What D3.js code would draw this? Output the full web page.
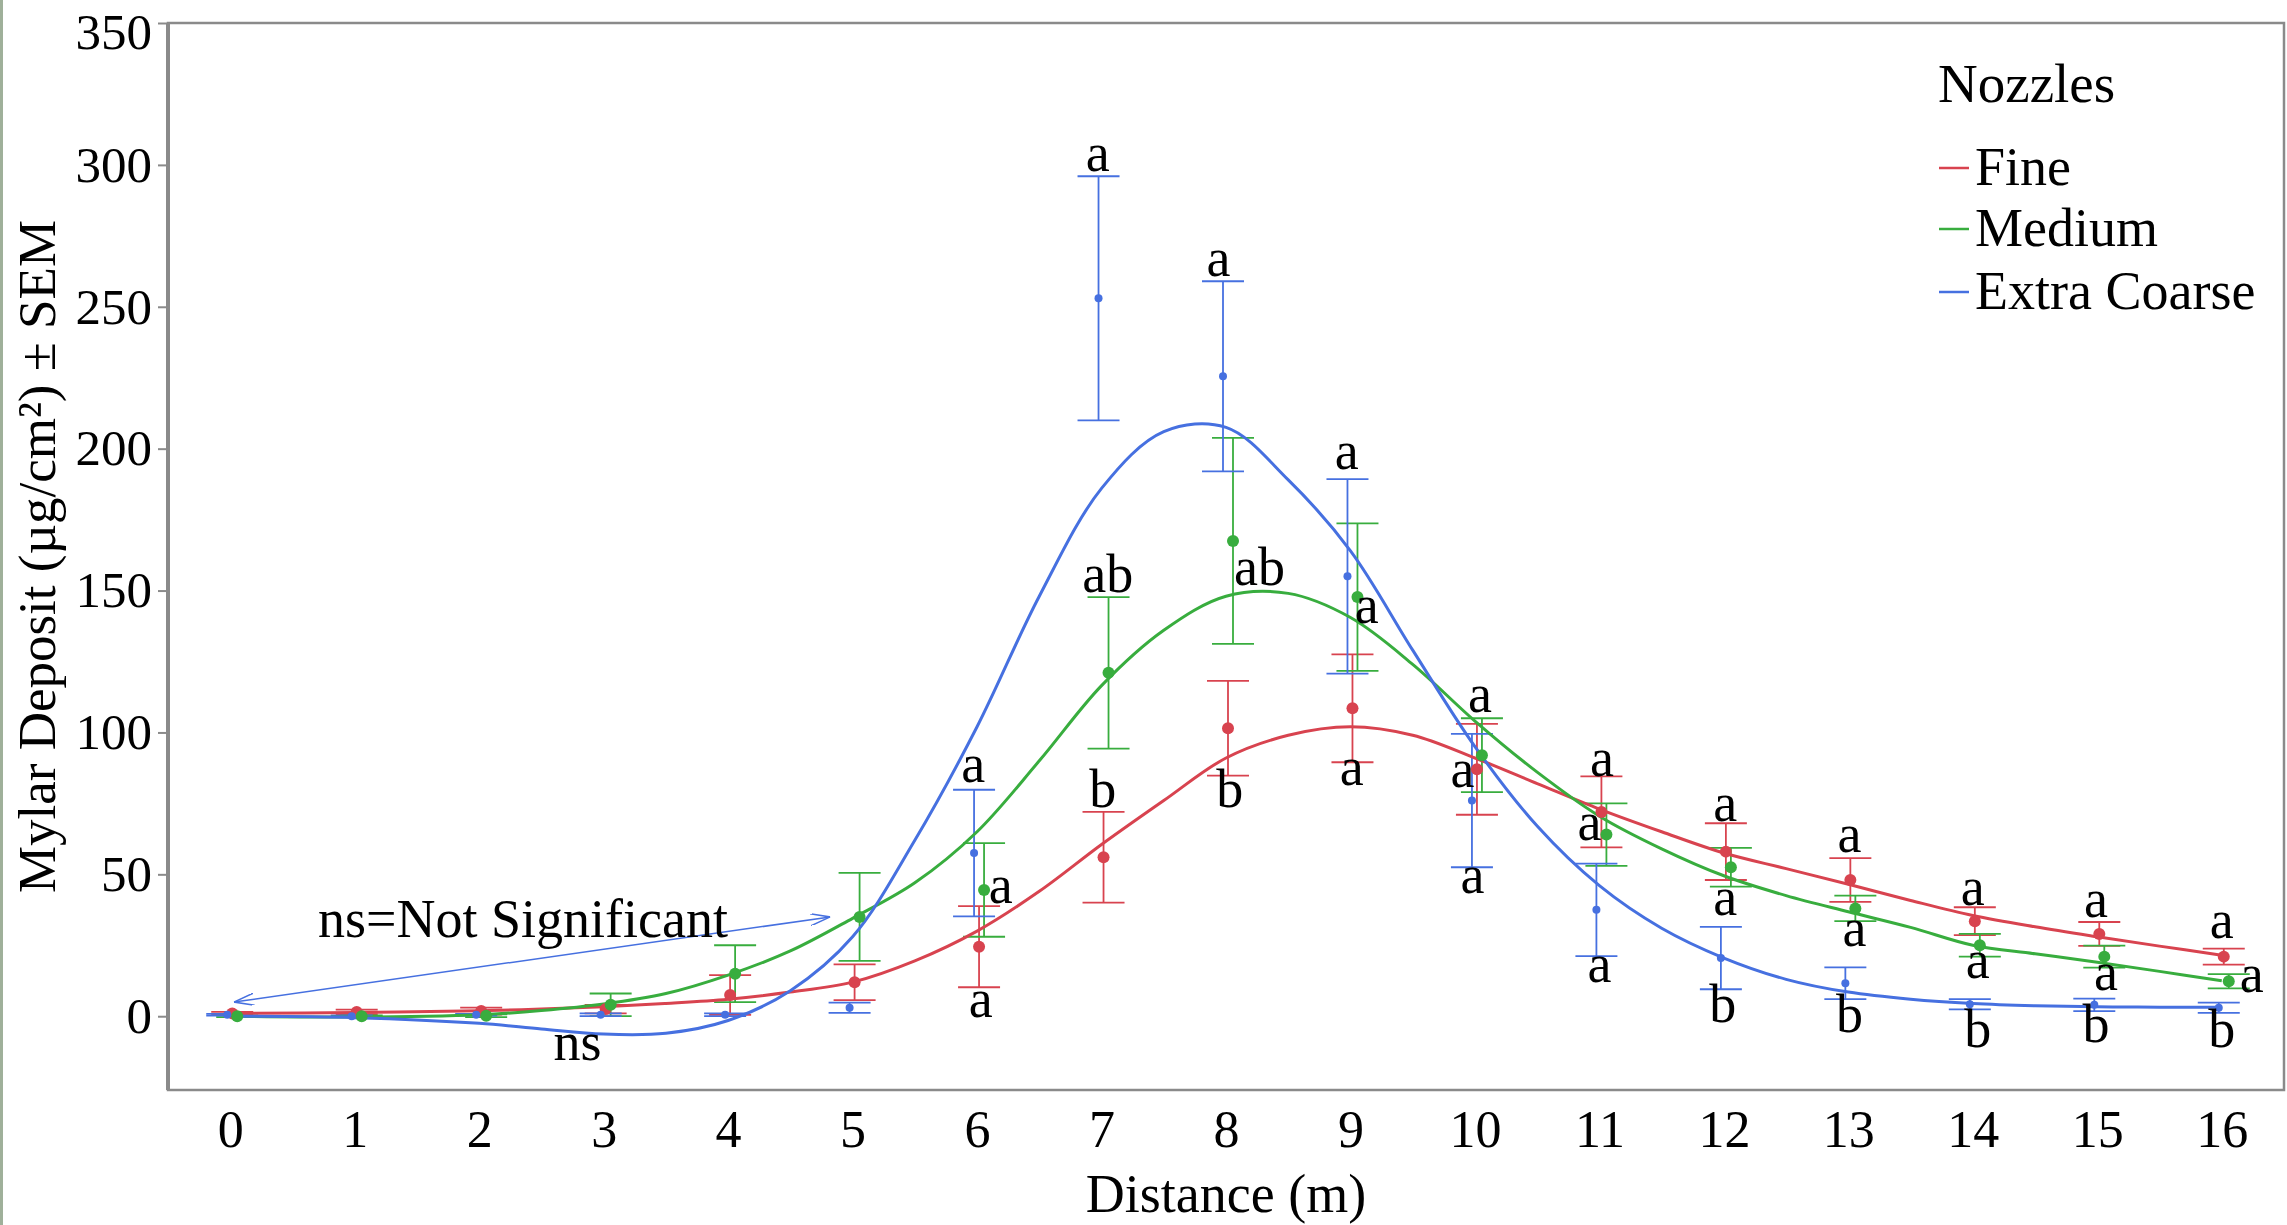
<!DOCTYPE html>
<html>
<head>
<meta charset="utf-8">
<script src="https://cdn.jsdelivr.net/npm/d3@7"></script>
<style>
  body { margin: 0; background: #ffffff; }
  text { font-family: "Liberation Serif", "Times New Roman", serif; fill: #000; }
</style>
</head>
<body>
<div id="chart"></div>
<script>
// Data ------------------------------------------------------------------------
const distances = [0, 1, 2, 3, 4, 5, 6, 7, 8, 9, 10, 11, 12, 13, 14, 15, 16];

const fineMean = [1, 1.5, 1.8, 2.5, 7.5, 12, 24.5, 56, 101.5, 108.5, 87, 72, 58, 48, 33.5, 29, 21];
const fineSem = [0.5, 0.8, 1.2, 1.5, 7, 6.3, 14.3, 16, 16.7, 19, 16, 12.5, 10, 7.7, 4.9, 4.2, 2.8];
const mediumMean = [0, 0, 0.2, 4, 15, 35, 44.5, 121, 167.5, 147.7, 92, 64, 52.5, 38, 25, 21, 12.3];
const mediumSem = [0.3, 0.3, 0.5, 4, 10, 15.5, 16.5, 26.7, 36.3, 26, 13, 11, 6.8, 4.5, 4, 3.9, 2.5];
const coarseMean = [0.5, 0, 0.5, 0.5, 0.5, 3, 57.5, 253, 225.5, 155, 76, 37.5, 20.5, 11.6, 4.2, 4, 3];
const coarseSem = [0.3, 0.3, 0.3, 0.5, 0.5, 1.8, 22.3, 43, 33.5, 34.3, 23.5, 16.3, 11, 5.6, 1.8, 2.2, 1.8];

// fitted curves
const fitX = [0, 1, 2, 2.5, 3, 3.5, 4, 4.5, 5, 5.5, 6, 6.5, 7, 7.5, 8, 8.5, 9, 9.5, 10, 10.5, 11, 11.5, 12, 12.5, 13, 13.5, 14, 14.5, 15, 15.5, 16];
const fineFit = [1, 1.3, 1.9, 2.5, 3.3, 4.5, 6, 8.5, 12, 19.5, 30, 44, 60.5, 76, 91, 99, 102, 99, 91, 82, 73, 65, 57.5, 52, 46.5, 40.8, 35.5, 31.5, 28, 24.7, 21.5];
const mediumFit = [0, -0.3, 0.5, 2, 4.3, 8, 14.5, 23, 34.5, 47, 65, 90, 116.5, 136, 148, 149, 140.5, 124, 104, 86, 70.5, 59, 49.5, 42.5, 36.8, 31.3, 25, 22, 19, 15.8, 12.5];
const coarseFit = [0, -0.5, -2.5, -4.5, -6.3, -6, -1.5, 9, 28, 62, 102, 148, 186, 206, 207.5, 189, 164, 129, 95, 67, 46, 31, 20.5, 13, 8.5, 6, 4.5, 3.7, 3.3, 3.2, 3.2];

const seriesNames = ["Fine", "Medium", "Extra Coarse"];
const yTicks = [0, 50, 100, 150, 200, 250, 300, 350];

// significance letters: position in data units
const labelX = [5.97, 6.19, 6.03, 7.01, 7.05, 6.97, 7.94, 8.27, 8.03, 8.97, 9.13, 9.01,
  10.04, 9.9, 9.98, 11.02, 10.92, 11.0, 12.01, 12.01, 11.99, 13.01, 13.05, 13.01,
  14.0, 14.04, 14.04, 14.99, 15.07, 14.99, 16.0, 16.24, 16.0, 2.79];
const labelY = [82.6, 39.9, -0.4, 73.7, 149.6, 297.8, 260.8, 152, 73.7, 192.7, 138.7, 81.5,
  107.3, 80.8, 43.4, 84.7, 62.1, 12, 68.8, 35.6, -2.1, 57.9, 24.7, -5.6,
  39.2, 13.4, -10.9, 34.9, 9.2, -9.2, 27.5, 8.5, -10.9, -15.5];
const labelText = ["a", "a", "a", "b", "ab", "a", "a", "ab", "b", "a", "a", "a",
  "a", "a", "a", "a", "a", "a", "a", "a", "b", "a", "a", "b",
  "a", "a", "b", "a", "a", "b", "a", "a", "b", "ns"];

// Canvas ----------------------------------------------------------------------
const canvasWidth = 2287;
const canvasHeight = 1225;

const plotLeft = 168;
const plotRight = 2284;
const plotTop = 23;
const plotBottom = 1090;

const colors = ["#d8434f", "#38ad3e", "#4670e0"];
const dodge = [2, 7, -3];
const dotRadius = [6, 6, 4];
const capWidth = 42;

const svg = d3.select("#chart")
  .append("svg")
  .attr("width", canvasWidth)
  .attr("height", canvasHeight);

svg.append("rect")
  .attr("x", 0).attr("y", 0)
  .attr("width", 3).attr("height", canvasHeight)
  .attr("fill", "#9fb09a");

const xScale = d3.scaleLinear().domain([-0.5, 16.5]).range([plotLeft, plotRight]);
const yScale = d3.scaleLinear().domain([-26, 350]).range([plotBottom, plotTop]);

// Frame and axes --------------------------------------------------------------
svg.append("rect")
  .attr("x", plotLeft).attr("y", plotTop)
  .attr("width", plotRight - plotLeft).attr("height", plotBottom - plotTop)
  .attr("fill", "none")
  .attr("stroke", "#8a8a8a")
  .attr("stroke-width", 2.5);

svg.append("line")
  .attr("x1", plotLeft).attr("x2", plotLeft)
  .attr("y1", plotTop).attr("y2", plotBottom)
  .attr("stroke", "#8a8a8a").attr("stroke-width", 4);

const yAxis = svg.append("g")
  .attr("transform", "translate(" + plotLeft + ",0)")
  .call(d3.axisLeft(yScale).tickValues(yTicks).tickSize(10).tickPadding(6));
yAxis.select(".domain").remove();
yAxis.selectAll("line").attr("stroke", "#8a8a8a").attr("stroke-width", 2);
yAxis.selectAll("text")
  .style("font-family", "'Liberation Serif', serif")
  .style("font-size", "51px")
  .attr("fill", "#000");
// top label sits a little lower so it stays inside the picture
yAxis.selectAll("text")
  .filter(d => d == 350)
  .attr("dy", "0.5em");

const xAxis = svg.append("g")
  .attr("transform", "translate(0," + plotBottom + ")")
  .call(d3.axisBottom(xScale).tickValues(distances).tickSize(0));
xAxis.select(".domain").remove();
xAxis.selectAll("text")
  .attr("y", 57).attr("dy", 0)
  .style("font-family", "'Liberation Serif', serif")
  .style("font-size", "52px")
  .attr("fill", "#000");

svg.append("text")
  .text("Distance (m)")
  .attr("x", (plotLeft + plotRight) / 2)
  .attr("y", 1212)
  .style("text-anchor", "middle")
  .style("font-size", "54px");

svg.append("text")
  .text("Mylar Deposit (µg/cm²) ± SEM")
  .attr("transform", "translate(55," + (plotTop + plotBottom) / 2 + ") rotate(-90)")
  .style("text-anchor", "middle")
  .style("font-size", "53px");

// Series ----------------------------------------------------------------------
const means = [fineMean, mediumMean, coarseMean];
const sems = [fineSem, mediumSem, coarseSem];
const fits = [fineFit, mediumFit, coarseFit];

const lineGen = d3.line()
  .x(d => xScale(d[0]))
  .y(d => yScale(d[1]))
  .curve(d3.curveCatmullRom);

means.forEach(function(meanArr, s) {
  const g = svg.append("g");
  const rows = distances.map((d, i) => ({ x: d, m: meanArr[i], e: sems[s][i] }));

  g.selectAll("line.bar")
    .data(rows)
    .join("line")
    .attr("class", "bar")
    .attr("x1", d => xScale(d.x) + dodge[s])
    .attr("x2", d => xScale(d.x) + dodge[s])
    .attr("y1", d => yScale(d.m - d.e))
    .attr("y2", d => yScale(d.m + d.e))
    .attr("stroke", colors[s]).attr("stroke-width", 1.8);

  ["lo", "hi"].forEach(function(side) {
    g.selectAll("line.cap-" + side)
      .data(rows)
      .join("line")
      .attr("class", "cap-" + side)
      .attr("x1", d => xScale(d.x) + dodge[s] - capWidth / 2)
      .attr("x2", d => xScale(d.x) + dodge[s] + capWidth / 2)
      .attr("y1", d => yScale(side == "lo" ? d.m - d.e : d.m + d.e))
      .attr("y2", d => yScale(side == "lo" ? d.m - d.e : d.m + d.e))
      .attr("stroke", colors[s]).attr("stroke-width", 1.8);
  });
});

fits.forEach(function(fitArr, s) {
  svg.append("path")
    .datum(fitX.map((x, i) => [x, fitArr[i]]))
    .attr("d", lineGen)
    .attr("fill", "none")
    .attr("stroke", colors[s])
    .attr("stroke-width", 3);
});

means.forEach(function(meanArr, s) {
  svg.append("g")
    .selectAll("circle")
    .data(distances.map((d, i) => [d, meanArr[i]]))
    .join("circle")
    .attr("cx", d => xScale(d[0]) + dodge[s])
    .attr("cy", d => yScale(d[1]))
    .attr("r", dotRadius[s])
    .attr("fill", colors[s]);
});

// Letters ---------------------------------------------------------------------
svg.append("g")
  .selectAll("text")
  .data(labelText.map((t, i) => ({ t: t, x: labelX[i], y: labelY[i] })))
  .join("text")
  .text(d => d.t)
  .attr("x", d => xScale(d.x))
  .attr("y", d => yScale(d.y))
  .style("text-anchor", "middle")
  .style("font-size", "54px");

// ns annotation with double arrow
const defs = svg.append("defs");
["start", "end"].forEach(function(k) {
  defs.append("marker")
    .attr("id", "arrow-" + k)
    .attr("viewBox", "0 0 20 12")
    .attr("refX", k == "end" ? 20 : 0).attr("refY", 6)
    .attr("markerWidth", 20).attr("markerHeight", 12)
    .attr("markerUnits", "userSpaceOnUse")
    .attr("orient", "auto")
    .append("path")
    .attr("d", k == "end" ? "M0,0 L20,6 L0,12" : "M20,0 L0,6 L20,12")
    .attr("fill", "none")
    .attr("stroke", colors[2])
    .attr("stroke-width", 1.5);
});

svg.append("line")
  .attr("x1", xScale(0.03)).attr("y1", yScale(5))
  .attr("x2", xScale(4.82)).attr("y2", yScale(35))
  .attr("stroke", colors[2])
  .attr("stroke-width", 1.5)
  .attr("marker-start", "url(#arrow-start)")
  .attr("marker-end", "url(#arrow-end)");

svg.append("text")
  .text("ns=Not Significant")
  .attr("x", 318)
  .attr("y", 937)
  .style("font-size", "54px");

// Legend ----------------------------------------------------------------------
const legend = svg.append("g").attr("transform", "translate(1938,0)");
legend.append("text").text("Nozzles").attr("x", 0).attr("y", 102).style("font-size", "55px");
const legendY = [168, 229, 292];
seriesNames.forEach(function(name, i) {
  legend.append("line")
    .attr("x1", 1).attr("x2", 31)
    .attr("y1", legendY[i]).attr("y2", legendY[i])
    .attr("stroke", colors[i]).attr("stroke-width", 2.5);
  legend.append("text")
    .text(name)
    .attr("x", 37)
    .attr("y", legendY[i] + 17)
    .style("font-size", "54px");
});
</script>
</body>
</html>
